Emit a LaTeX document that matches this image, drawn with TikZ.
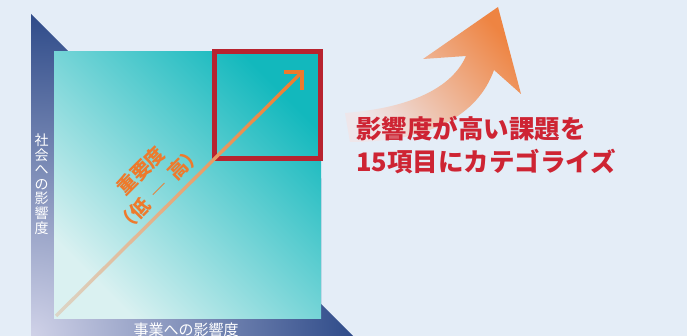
\documentclass[tikz,border=0pt]{standalone}
\usepackage{fontspec}
\newfontfamily\jp{Noto Sans CJK JP}
\definecolor{bgc}{HTML}{E4EDF7}
\definecolor{navy}{HTML}{2B4887}
\definecolor{lav}{HTML}{D0D2E8}
\definecolor{teal}{HTML}{12B8BD}
\definecolor{sqmid}{HTML}{92D5D7}
\definecolor{sqlight}{HTML}{DAF1F1}
\definecolor{redbox}{HTML}{B8232F}
\definecolor{redT}{HTML}{CE2433}
\definecolor{orangeC}{HTML}{EE7A2C}
\definecolor{lineA}{HTML}{DCD6C8}
\definecolor{lineM}{HTML}{DDA272}
\definecolor{arrowO}{HTML}{EE8442}
\definecolor{arrowP}{HTML}{EEE6EA}
\tikzset{
  axislabel/.style={text=white, inner sep=0pt},
  hlbox/.style={draw=redbox, line width=5pt, inner sep=0pt},
}
\begin{document}
\begin{tikzpicture}[x=1pt,y=-1pt]
\useasboundingbox (0,0) rectangle (687,336);
\fill[bgc] (0,0) rectangle (687,336);
% L-shaped axis band
\begin{scope}
\clip (31,14) -- (69,52) -- (321,52) -- (321,304) -- (353,336) -- (31,336) -- cycle;
\shade[inner color=lav, outer color=navy] (31,336) circle (330);
\end{scope}
% square
\node[minimum width=267pt, minimum height=266pt, inner sep=0pt, shade,
      top color=teal, middle color=sqmid, bottom color=sqlight, shading angle=-45] (sq) at (187.5,185) {};
% highlight box
\node[hlbox, minimum width=106pt, minimum height=107pt] (hl) at (267.5,105) {};
% importance arrow
\coordinate (s) at (56,316);
\coordinate (t) at (302,72);
\shade[left color=lineA, middle color=lineM, right color=orangeC]
  (57.2,317.2) -- (303.2,73.2) -- (300.8,70.8) -- (54.8,314.8) -- cycle;
\coordinate (a1) at (284,72);
\coordinate (a2) at (302,90);
\draw[orangeC, line width=3.5pt, line join=miter] (a1) -- (t) -- (a2);
\node[rotate=45, text=orangeC, font=\jp\bfseries\fontsize{19.5}{26}\selectfont,
      align=center, inner sep=0pt] (imp) at (150,180) {重要度\\（低\hspace{0.4em}―\hspace{0.4em}高）};
% axis labels
\node[axislabel, font=\jp\fontsize{14}{14.6}\selectfont, align=center] (ylab) at (41.5,184) {社\\会\\へ\\の\\影\\響\\度};
\node[axislabel, font=\jp\fontsize{15}{18}\selectfont] (xlab) at (186,330) {事業への影響度};
% big curved arrow
\shade[top color=arrowO, bottom color=arrowP, shading angle=-50]
  (498,7) -- (521,94) -- (494,70)
  .. controls (478,115) and (430,142) .. (350,142)
  -- (345,113)
  .. controls (410,108) and (452,88) .. (466,56)
  -- (423,59) -- cycle;
% title
\node[anchor=west, text=redT, font=\jp\bfseries\fontsize{25.5}{33}\selectfont,
      align=left, inner sep=0pt] (title) at (356,145) {影響度が高い課題を\\15項目にカテゴライズ};
\end{tikzpicture}
\end{document}
